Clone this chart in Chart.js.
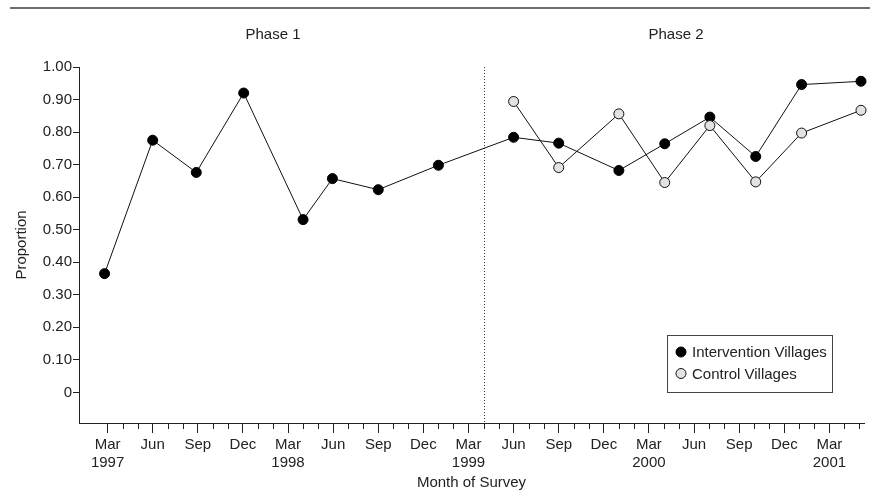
<!DOCTYPE html>
<html>
<head>
<meta charset="utf-8">
<script src="https://cdn.jsdelivr.net/npm/chart.js@4.4.1/dist/chart.umd.min.js"></script>
<style>
  html, body { margin: 0; padding: 0; background: #fff; }
</style>
</head>
<body>
<canvas id="surveyChart" width="870" height="500"></canvas>
<script>
// survey months, counted from March 1997 (0 = Mar 1997)
const interventionMonths = [-0.2, 3, 5.9, 9.05, 13, 14.95, 18, 22, 27, 30, 34, 37.05, 40.05, 43.1, 46.15, 50.1];
const interventionValues = [0.365, 0.775, 0.676, 0.920, 0.531, 0.657, 0.623, 0.698, 0.784, 0.766, 0.682, 0.764, 0.846, 0.725, 0.946, 0.956];
const controlMonths = [27, 30, 34, 37.05, 40.05, 43.1, 46.15, 50.1];
const controlValues = [0.894, 0.691, 0.856, 0.645, 0.820, 0.647, 0.797, 0.867];

const seriesNames = ['Intervention Villages', 'Control Villages'];
const phaseNames = ['Phase 1', 'Phase 2'];
const monthNames = ['Jan', 'Feb', 'Mar', 'Apr', 'May', 'Jun', 'Jul', 'Aug', 'Sep', 'Oct', 'Nov', 'Dec'];
const yTickValues = [0, 0.1, 0.2, 0.3, 0.4, 0.5, 0.6, 0.7, 0.8, 0.9, 1.0];
const phaseSplitMonth = 25; // Apr 1999

const FONT = "'Liberation Sans', Arial, Helvetica, sans-serif";
const INK = '#222';

function toPoints(xs, ys) {
  return xs.map((x, i) => ({ x: x, y: ys[i] }));
}

const decor = {
  id: 'decor',
  beforeDraw(chart) {
    const ctx = chart.ctx;
    ctx.save();
    ctx.fillStyle = '#fff';
    ctx.fillRect(0, 0, chart.width, chart.height);
    ctx.strokeStyle = '#6e6e6e';
    ctx.lineWidth = 2;
    ctx.beginPath();
    ctx.moveTo(10, 8);
    ctx.lineTo(870, 8);
    ctx.stroke();
    ctx.restore();
  },
  beforeDatasetsDraw(chart) {
    const ctx = chart.ctx;
    const xs = chart.scales.x, ys = chart.scales.y;
    ctx.save();
    // dotted phase divider
    const px = Math.round(xs.getPixelForValue(phaseSplitMonth)) + 0.5;
    ctx.strokeStyle = '#333';
    ctx.lineWidth = 1;
    ctx.setLineDash([1, 2]);
    ctx.beginPath();
    ctx.moveTo(px, ys.getPixelForValue(1.0));
    ctx.lineTo(px, chart.chartArea.bottom);
    ctx.stroke();
    ctx.setLineDash([]);
    // short monthly ticks
    ctx.strokeStyle = INK;
    xs.ticks.forEach(t => {
      if (t.value % 3 === 0) return;
      const x = Math.round(xs.getPixelForValue(t.value)) + 0.5;
      ctx.beginPath();
      ctx.moveTo(x, xs.top);
      ctx.lineTo(x, xs.top + 6);
      ctx.stroke();
    });
    ctx.restore();
  },
  afterDraw(chart) {
    const ctx = chart.ctx;
    const xs = chart.scales.x;
    ctx.save();
    ctx.font = '15px ' + FONT;
    ctx.fillStyle = INK;
    ctx.textAlign = 'center';
    ctx.textBaseline = 'middle';
    ctx.fillText(phaseNames[0], xs.getPixelForValue(11), 35);
    ctx.fillText(phaseNames[1], xs.getPixelForValue(37.8), 35);

    // legend
    ctx.strokeStyle = '#444';
    ctx.lineWidth = 1;
    ctx.strokeRect(667.5, 335.5, 165, 57);
    ctx.textAlign = 'left';
    chart.data.datasets.forEach((ds, i) => {
      const y = 352 + i * 21.5;
      ctx.beginPath();
      ctx.arc(681, y, 5, 0, Math.PI * 2);
      ctx.fillStyle = ds.pointBackgroundColor;
      ctx.fill();
      ctx.strokeStyle = ds.pointBorderColor;
      ctx.stroke();
      ctx.fillStyle = INK;
      ctx.fillText(ds.label, 692, y + 1);
    });
    ctx.restore();
  }
};

new Chart(document.getElementById('surveyChart'), {
  type: 'line',
  data: {
    datasets: [
      {
        label: seriesNames[0],
        data: toPoints(interventionMonths, interventionValues),
        borderColor: '#111',
        borderWidth: 1,
        pointBackgroundColor: '#000',
        pointBorderColor: '#000',
        pointBorderWidth: 1,
        pointRadius: 5,
        tension: 0,
        clip: false,
        order: 1
      },
      {
        label: seriesNames[1],
        data: toPoints(controlMonths, controlValues),
        borderColor: '#111',
        borderWidth: 1,
        pointBackgroundColor: '#e2e2e2',
        pointBorderColor: '#111',
        pointBorderWidth: 1,
        pointRadius: 5,
        tension: 0,
        clip: false,
        order: 0
      }
    ]
  },
  options: {
    responsive: false,
    animation: false,
    layout: { padding: { top: 67, right: 4, bottom: 0, left: 0 } },
    plugins: {
      legend: { display: false },
      tooltip: { enabled: false }
    },
    scales: {
      x: {
        type: 'linear',
        min: -1.9,
        max: 50.3,
        afterBuildTicks: (scale) => {
          const t = [];
          for (let m = 0; m <= 50; m++) t.push({ value: m });
          scale.ticks = t;
        },
        afterFit: (scale) => { scale.height = 77; },
        grid: {
          drawOnChartArea: false,
          drawTicks: true,
          tickLength: 10,
          tickColor: (c) => (c.tick && c.tick.value % 3 === 0) ? INK : 'rgba(0,0,0,0)'
        },
        border: { display: true, color: INK, width: 1 },
        ticks: {
          autoSkip: false,
          maxRotation: 0,
          color: INK,
          padding: 3,
          font: { family: FONT, size: 15, lineHeight: 1.2 },
          callback: (v) => {
            const m = Math.round(v);
            if (m % 3 !== 0) return '';
            const name = monthNames[(2 + m) % 12];
            return name === 'Mar' ? [name, String(1997 + Math.floor((2 + m) / 12))] : name;
          }
        },
        title: {
          display: true,
          text: 'Month of Survey',
          color: INK,
          font: { family: FONT, size: 15, lineHeight: 1.2 },
          padding: { top: 0, bottom: 8 }
        }
      },
      y: {
        min: -0.094,
        max: 1.0,
        afterBuildTicks: (scale) => {
          scale.ticks = yTickValues.map(v => ({ value: v }));
        },
        afterFit: (scale) => { scale.width = 79; },
        grid: {
          drawOnChartArea: false,
          drawTicks: true,
          tickLength: 6,
          tickColor: INK
        },
        border: { display: true, color: INK, width: 1 },
        ticks: {
          color: INK,
          padding: 1,
          font: { family: FONT, size: 15 },
          callback: (v) => v === 0 ? '0' : v.toFixed(2)
        },
        title: {
          display: true,
          text: 'Proportion',
          color: INK,
          font: { family: FONT, size: 15, lineHeight: 1.2 },
          padding: { top: 13, bottom: 0 }
        }
      }
    }
  },
  plugins: [decor]
});
</script>
</body>
</html>
